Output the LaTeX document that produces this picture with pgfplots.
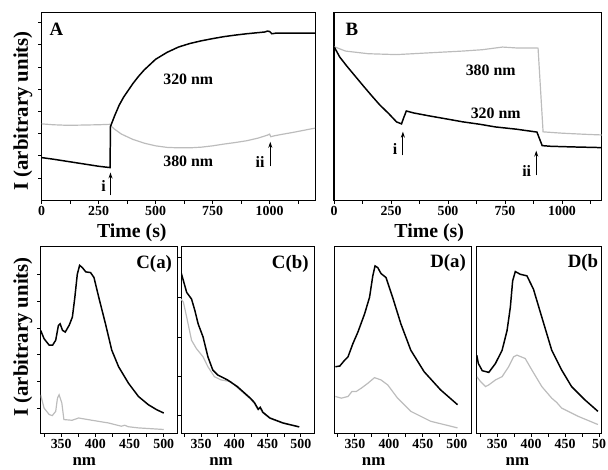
\documentclass[border=0pt]{standalone}
\usepackage{pgfplots}
\pgfplotsset{compat=1.18}
\usepackage{fontspec}
\setmainfont{Liberation Serif}
\usetikzlibrary{arrows.meta}

\definecolor{lgray}{RGB}{188,188,188}
\newcommand{\ylbl}{\fontsize{21}{21}\selectfont\bfseries}
\newcommand{\tlbl}{\fontsize{20}{20}\selectfont\bfseries}
\newcommand{\nmlbl}{\fontsize{17}{17}\selectfont\bfseries}
\newcommand{\biglbl}{\fontsize{19}{19}\selectfont\bfseries}
\newcommand{\midlbl}{\fontsize{16}{16}\selectfont\bfseries}
\newcommand{\ticklbl}{\fontsize{14}{14}\selectfont\bfseries}

\tikzset{arr/.style={-{Stealth[length=6pt,width=4pt]}, line width=1pt}}
\pgfplotsset{
  panel/.style={
    scale only axis,
    axis line style={line width=1.2pt},
    tick style={black, line width=0.9pt},
    tick align=outside,
    major tick length=3.5pt, minor tick length=3.5pt,
    xtick pos=bottom, ytick pos=left,
    xticklabel style={font=\ticklbl, inner sep=2pt},
    anchor=north west,
  },
  toppanel/.style={panel, width=276pt, height=189pt,
    xmin=0, xmax=1200, ymin=0, ymax=8.44,
    xtick={0,250,500,750,1000},
    xticklabels={\textbf{0},\textbf{250},\textbf{500},\textbf{750},\textbf{1000}},
    minor xtick={125,375,625,875,1125}},
  spec/.style={panel, height=188pt, xmin=320, xmax=520, ymin=0, ymax=188,
    xtick={350,400,450,500},
    xticklabels={\textbf{350},\textbf{400},\textbf{450},\textbf{500}},
    minor xtick={325,375,425,475}},
  blk/.style={black, line width=1.5pt},
  gry/.style={lgray, line width=1.2pt},
}

\begin{document}
\begin{tikzpicture}
\path (0pt,0pt) rectangle (608pt,471pt);

% ---- A ----
\begin{axis}[toppanel, at={(42pt,458pt)}, ytick={1,...,8}, yticklabels={}]
\addplot[gry] coordinates {(0,3.44)(50,3.40)(100,3.38)(150,3.38)(200,3.39)(250,3.40)(300,3.42)(302,3.36)
  (320,3.20)(350,2.98)(400,2.74)(450,2.57)(500,2.45)(550,2.38)(600,2.36)(650,2.36)(700,2.39)(750,2.45)
  (800,2.53)(850,2.60)(900,2.68)(950,2.80)(990,2.93)(1000,2.98)(1005,2.86)(1020,2.90)(1050,2.96)
  (1100,3.05)(1150,3.15)(1200,3.25)};
\addplot[blk] coordinates {(0,1.92)(50,1.85)(100,1.77)(150,1.69)(200,1.61)(250,1.53)(300,1.47)(302,3.32)
  (320,3.80)(340,4.28)(360,4.65)(380,4.95)(400,5.25)(425,5.58)(450,5.87)(500,6.35)(550,6.66)(600,6.90)
  (650,7.06)(700,7.18)(750,7.28)(800,7.37)(850,7.44)(900,7.50)(950,7.55)(980,7.58)(990,7.62)(1000,7.60)
  (1010,7.50)(1030,7.53)(1100,7.53)(1200,7.53)};
\node[font=\biglbl] at (axis cs:65,7.68) {A};
\node[font=\midlbl] at (axis cs:643,5.45) {320 nm};
\node[font=\midlbl] at (axis cs:643,1.74) {380 nm};
\draw[arr] (axis cs:302,0.22) -- (axis cs:302,1.25);
\node[font=\midlbl] at (axis cs:272,0.63) {i};
\draw[arr] (axis cs:1003,1.52) -- (axis cs:1003,2.63);
\node[font=\midlbl] at (axis cs:958,1.74) {ii};
\end{axis}

% ---- B (cut at the right edge, as in the reference) ----
\begin{axis}[toppanel, at={(337pt,458pt)}, width=270pt, xmax=1174, ytick=\empty]
\addplot[gry] coordinates {(0,6.92)(50,6.72)(150,6.60)(274,6.56)(400,6.63)(565,6.72)(650,6.78)(739,6.90)
  (800,6.86)(890,6.86)(895,6.85)(917,3.08)(1000,3.02)(1100,2.97)(1174,2.94)};
\addplot[blk] coordinates {(0,6.92)(25,6.45)(57,6.03)(100,5.50)(130,5.13)(170,4.65)(200,4.30)(240,3.90)
  (274,3.53)(296,3.44)(305,3.70)(317,4.02)(350,3.93)(417,3.80)(500,3.65)(565,3.53)(640,3.42)(709,3.30)
  (800,3.20)(883,3.08)(890,3.07)(913,2.46)(950,2.43)(1050,2.40)(1174,2.37)};
\node[font=\biglbl] at (axis cs:78,7.68) {B};
\node[font=\midlbl] at (axis cs:687,5.85) {380 nm};
\node[font=\midlbl] at (axis cs:709,3.93) {320 nm};
\draw[arr] (axis cs:302,2.02) -- (axis cs:302,3.09);
\node[font=\midlbl] at (axis cs:268,2.32) {i};
\draw[arr] (axis cs:887,1.12) -- (axis cs:887,2.23);
\node[font=\midlbl] at (axis cs:845,1.31) {ii};
\end{axis}

% ---- C(a) ----
\begin{axis}[spec, at={(41pt,222pt)}, width=138pt, ytick={25,52,79,106,133,160}, yticklabels={}]
\addplot[gry] coordinates {(320,38.7)(325,25.3)(332.6,18.7)(337,17.7)(342,22)(344.6,35.3)(347,38.7)(351,30.3)
  (354,13.7)(366,13)(375.5,15.3)(395,13)(419,10.3)(438,7)(443,8)(448,6.5)(463,5.3)(500,3.7)};
\addplot[blk] coordinates {(320,103.7)(325,95.3)(332.6,88.7)(337.4,88.7)(342,93.7)(346,108.7)(348.5,110.3)
  (352,103.7)(356,102)(361.6,108.7)(366.4,117)(370,137)(373.6,160.3)(377,169.3)(381,167)(386,162.7)
  (393,162)(398,157)(405,137)(414.8,110.3)(424,83.7)(434,67)(448.5,50.3)(463,37)(477.5,28.7)
  (489.5,23.7)(500,20.3)};
\node[font=\biglbl] at (axis cs:486,171) {C(a)};
\end{axis}

% ---- C(b) ----
\begin{axis}[spec, at={(182.7pt,222pt)}, width=134.3pt, ytick={18,57,97,137,177}, yticklabels={}]
\addplot[gry] coordinates {(320,135.3)(323.5,132)(328.4,117)(335.7,93.7)(343,85.3)(353,77)(360.3,67)(370,57)
  (380,53.7)(394.6,52)(404.4,46)(424,34.5)(430,30)(435,24)(438,26)(442,21)(453,15)(473,10)(497.5,6.3)};
\addplot[blk] coordinates {(320,162)(323.5,153.7)(328.4,142)(335.7,135.3)(340.7,123.7)(345.6,110.3)(353,97)
  (360.3,77)(367.6,63.7)(375,58.7)(389.7,53.7)(404.4,47)(424,35.3)(430,31)(436,24)(439,26)(443,21)
  (453.4,15.3)(473,10.3)(497.5,6.3)};
\node[font=\biglbl] at (axis cs:484,171) {C(b)};
\end{axis}

% ---- D(a) ----
\begin{axis}[spec, at={(337.5pt,222pt)}, width=138.5pt, xmax=522, ytick=\empty]
\addplot[gry] coordinates {(321.2,37)(330,35.3)(339.8,37)(345.6,42)(351.9,42)(359.2,45.3)(369,50.3)(378.8,56)
  (388.4,53.7)(398.2,48.7)(412.8,35.3)(432.2,22)(461.4,12)(501,5.3)};
\addplot[blk] coordinates {(321.2,67)(327.7,67.7)(335,73.7)(339.8,77)(347,90.3)(354.4,102)(364.2,120.3)
  (371.5,137)(376.3,158.7)(379.6,168.7)(383.6,167)(388.4,161)(395.7,157)(405.5,137)(417.6,110.3)
  (432.2,83.7)(451.8,62)(476,43.7)(501,28.7)};
\node[font=\biglbl] at (axis cs:487,172) {D(a)};
\end{axis}

% ---- D(b) (cut at the right edge) ----
\begin{axis}[spec, at={(481pt,222pt)}, width=126pt, xmax=503.8, ytick=\empty,
  xticklabels={\textbf{350},\textbf{400},\textbf{450},\textbf{50}}]
\addplot[gry] coordinates {(320,57)(325.6,52)(332.9,47)(337.7,48.7)(347.5,53.7)(357.3,57)(366.9,67)(374.2,77)
  (379.2,78.7)(391.3,75.3)(401.1,63.7)(415.7,47)(430.3,35.3)(437.6,31)(444.9,25.3)(469.1,17)(498.3,8.7)};
\addplot[blk] coordinates {(320,78.7)(322.3,70.3)(328.1,63)(337.7,61.3)(347.5,70.3)(357.3,83.7)(364.6,103.7)
  (369.4,127)(372.8,153.7)(376.7,163)(384,160.3)(393.8,158.7)(403.4,145.3)(415.7,117)(430.3,83.7)
  (444.9,63.7)(459.5,47)(478.9,33.7)(498.3,22)};
\node[font=\biglbl, anchor=east] at (axis cs:503.8,172) {D(b};
\end{axis}

% axis titles
\node[rotate=90, font=\ylbl] at (23pt,359pt) {I (arbitrary units)};
\node[rotate=90, font=\ylbl] at (23pt,131pt) {I (arbitrary units)};
\node[font=\tlbl, anchor=base] at (133pt,231pt) {Time (s)};
\node[font=\tlbl, anchor=base] at (433pt,231pt) {Time (s)};
\node[font=\nmlbl, anchor=base] at (85pt,1pt) {nm};
\node[font=\nmlbl, anchor=base] at (223pt,1pt) {nm};
\node[font=\nmlbl, anchor=base] at (377pt,1pt) {nm};
\node[font=\nmlbl, anchor=base] at (522pt,1pt) {nm};
\end{tikzpicture}
\end{document}
